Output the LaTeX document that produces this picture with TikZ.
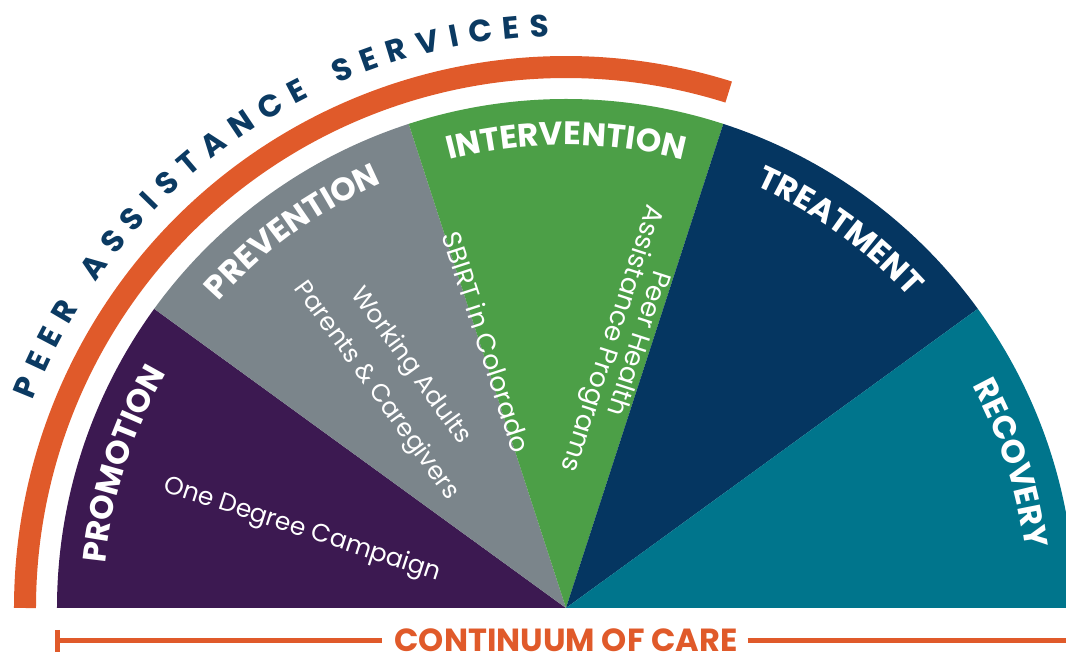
\documentclass[tikz,border=0pt]{standalone}
\usepackage{fontspec}
\setmainfont{Poppins}
\usetikzlibrary{decorations.text}
\definecolor{cPurple}{HTML}{3C1951}
\definecolor{cGray}{HTML}{7B858B}
\definecolor{cGreen}{HTML}{4C9F47}
\definecolor{cNavy}{HTML}{053661}
\definecolor{cTeal}{HTML}{00758C}
\definecolor{cOrange}{HTML}{E05A2A}
\definecolor{cText}{HTML}{0B3A62}
\newlength\tmpw
\newdimen\arcpos
\newdimen\totw
\newcount\lettno
\newcommand\outerfont{\bfseries\fontsize{31}{31}\selectfont}
\newcommand\titlefont{\bfseries\fontsize{32.5}{33}\selectfont}
\newcommand\labfont{\fontsize{25}{30}\selectfont}
\newcommand\labfontb{\fontsize{26.5}{30}\selectfont}
\def\Rtxt{572}
\def\Astart{157.8}
\def\Aend{92.6}
\AtBeginDocument{%
  \foreach \c in {P,E,R,A,S,I,T,N,C,V}{%
    \settowidth\tmpw{\outerfont \c}%
    \expandafter\xdef\csname lw\c\endcsname{\the\tmpw}}%
}
\tikzset{
  outerletter/.style={inner sep=0pt, anchor=base, text=cText, font=\outerfont},
  lab/.style={inner sep=0pt, text=white, font=\labfont},
  labb/.style={inner sep=0pt, text=white, font=\labfontb},
  title/.style={decorate, decoration={text along path, text align=center, text={|\titlefont\color{white}|#1}}},
  ccline/.style={draw=cOrange, line width=5pt}
}
\newcommand\arcword[1]{%
  \foreach \ch in {#1}{%
    \edef\cw{\csname lw\ch\endcsname}%
    \pgfmathsetmacro\ang{\Astart-(\the\arcpos+0.5*\cw)/\Rtxt*57.29578}%
    \global\advance\lettno by 1
    \node[outerletter, rotate=\ang-90, name=ltr\the\lettno] at (\ang:\Rtxt) {\ch};
    \global\advance\arcpos by \cw\relax
    \global\advance\arcpos by \trk\relax
  }%
  \global\advance\arcpos by \wgap\relax
}
\begin{document}
\begin{tikzpicture}[x=1pt,y=1pt]
\useasboundingbox (-566,-50) rectangle (500,608);
\clip (-566,-50) rectangle (500,608);
% sectors
\fill[cPurple] (0,0) -- (180:509) arc[start angle=180,end angle=144,radius=509] -- cycle;
\fill[cGray]   (0,0) -- (144:509) arc[start angle=144,end angle=108,radius=509] -- cycle;
\fill[cGreen]  (0,0) -- (108:509) arc[start angle=108,end angle=72,radius=509] -- cycle;
\fill[cNavy]   (0,0) -- (72:509) arc[start angle=72,end angle=36,radius=509] -- cycle;
\fill[cTeal]   (0,0) -- (36:509) arc[start angle=36,end angle=0,radius=509] -- cycle;
% orange arc
\draw[cOrange, line width=22pt] (180:541) arc[start angle=180,end angle=72.5,radius=541];
% titles
\path[title=PROMOTION]    (180:463) arc[start angle=180,end angle=144,radius=463];
\path[title=PREVENTION]   (144:463) arc[start angle=144,end angle=108,radius=463];
\path[title=INTERVENTION] (108:463) arc[start angle=108,end angle=72,radius=463];
\path[title=TREATMENT]    (72:463) arc[start angle=72,end angle=36,radius=463];
\path[title=RECOVERY]     (36:463) arc[start angle=36,end angle=0,radius=463];
% labels
\node[lab, rotate=-18]  (odc) at (-264,78) {One Degree Campaign};
\node[lab, rotate=-54]  (wa)  at (-156,242) {Working Adults};
\node[lab, rotate=-54]  (pc)  at (-190,217) {Parents \& Caregivers};
\node[labb, rotate=-72]  (sb)  at (-79,266) {SBIRT in Colorado};
\node[labb, rotate=-108] (ph)  at (74,264) {Peer Health};
\node[labb, rotate=-108] (ap)  at (45,270) {Assistance Programs};
% outer text: fit tracking so that first and last letter centres fall on the given angles
\global\totw=0pt
\foreach \c in {P,E,E,R,A,S,S,I,S,T,A,N,C,E,S,E,R,V,I,C,E,S}{\global\advance\totw by \csname lw\c\endcsname\relax}
\pgfmathsetmacro\trkv{((\Astart-\Aend)/57.29578*\Rtxt - \the\totw + 0.5*(\lwP+\lwS))/25}
\edef\trk{\trkv pt}
\pgfmathsetmacro\wgapv{2*\trkv}
\edef\wgap{\wgapv pt}
\global\arcpos=\dimexpr -\lwP/2\relax
\arcword{P,E,E,R}
\arcword{A,S,S,I,S,T,A,N,C,E}
\arcword{S,E,R,V,I,C,E,S}
% bottom
\node[inner sep=0pt, text=cOrange, font=\bfseries\fontsize{32}{32}\selectfont] (cc) at (0,-32) {CONTINUUM OF CARE};
\coordinate (ccL) at (-510,-33);
\coordinate (ccR) at (500,-33);
\coordinate (tickT) at (-508,-22);
\coordinate (tickB) at (-508,-44);
\draw[ccline] (ccL) -- ([xshift=-12pt]cc.west |- ccL);
\draw[ccline] ([xshift=10pt]cc.east |- ccR) -- (ccR);
\draw[ccline] (tickT) -- (tickB);
\end{tikzpicture}
\end{document}
